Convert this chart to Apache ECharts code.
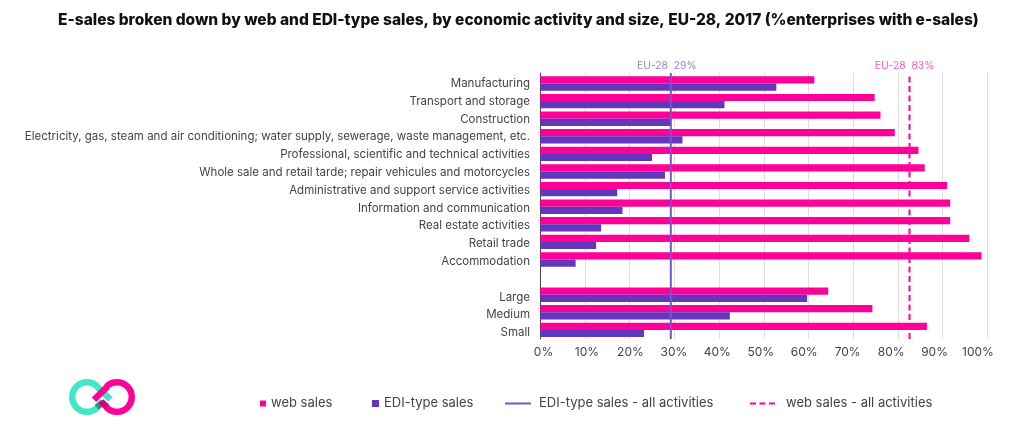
<!DOCTYPE html>
<html><head><meta charset="utf-8"><style>html,body{margin:0;background:#fff}#c{width:1024px;height:448px}</style>
<script src="https://cdn.jsdelivr.net/npm/echarts@6/dist/echarts.min.js"></script></head>
<body><div id="c"></div><script>
const categories=["Manufacturing","Transport and storage","Construction","Electricity, gas, steam and air conditioning; water supply, sewerage, waste management, etc.","Professional, scientific and technical activities","Whole sale and retail tarde; repair vehicules and motorcycles","Administrative and support service activities","Information and communication","Real estate activities","Retail trade","Accommodation","","Large","Medium","Small"];
const webSales=[61.3,74.8,76.1,79.3,84.6,86,91,91.7,91.7,96,98.7,null,64.4,74.3,86.5];
const ediSales=[52.8,41.2,29.3,31.8,25,27.9,17.2,18.4,13.6,12.5,7.9,null,59.7,42.4,23.2];
const ediAll=29.2, webAll=82.6;
const title="E-sales broken down by web and EDI-type sales, by economic activity and size, EU-28, 2017 (%enterprises with e-sales)";
const F="Inter",PINK="#ff0099",PUR="#6236bd",TXT="#444",TEAL="#40e8c8",LINEP="#7a55c9";
const L=540.3,W=447;
const legendBase=(name,left,w,h,icon,pad)=>({show:true,data:[icon?{name,icon}:{name}],left,top:397,padding:0,itemWidth:w,itemHeight:h,itemGap:0,textStyle:{fontFamily:F,fontSize:13,color:TXT,padding:[0,0,0,pad]},selectedMode:false});
const chart=echarts.init(document.getElementById('c'));
const stroke=(c)=>({stroke:c,lineWidth:6.5,fill:null,lineCap:'butt'});
const endLab=(text,color,dx)=>({show:true,formatter:text,align:'center',verticalAlign:'bottom',offset:[dx,-2],distance:0,fontFamily:F,fontSize:10.3,color});
chart.setOption({animation:false,backgroundColor:'#fff',
title:{text:title,left:58,top:12,padding:0,textStyle:{fontFamily:F,fontSize:15.5,fontWeight:800,color:'#111'}},
legend:[legendBase("web sales",260,6,6,'rect',0),legendBase("EDI-type sales",372,7,7,'rect',0),legendBase("EDI-type sales - all activities",504,26,2,null,3),legendBase("web sales - all activities",749,26,2,null,5)],
grid:[{left:L,width:W,top:74.7,height:264},{left:L,width:W,top:73,height:266},{left:543.5,width:434.5,top:74.6,height:267}],
xAxis:[
{gridIndex:0,type:'value',min:0,max:100,interval:10,axisLine:{show:false},axisTick:{show:false},axisLabel:{show:false},splitLine:{show:false}},
{gridIndex:1,type:'value',min:0,max:100,interval:10,axisLine:{show:false},axisTick:{show:false},axisLabel:{show:false},splitLine:{show:true,lineStyle:{color:'#dedede',width:1}}},
{gridIndex:2,type:'value',min:0,max:100,interval:10,axisLine:{show:false},axisTick:{show:false},splitLine:{show:false},axisLabel:{formatter:'{value}%',margin:4.5,fontFamily:F,fontSize:12,color:TXT}}],
yAxis:[
{gridIndex:0,type:'category',inverse:true,data:categories,axisLine:{show:false},axisTick:{show:false},axisLabel:{show:false},splitLine:{show:false}},
{gridIndex:1,type:'value',min:0,max:1,axisLine:{show:true,onZero:false,lineStyle:{color:'#444',width:1}},axisTick:{show:false},axisLabel:{show:false},splitLine:{show:false}},
{gridIndex:2,type:'category',inverse:true,data:categories,axisLine:{show:false},axisTick:{show:false},splitLine:{show:false},axisLabel:{interval:0,margin:13.5,fontFamily:F,fontSize:11.5,color:TXT}}],
series:[
{name:"web sales",type:'bar',xAxisIndex:0,yAxisIndex:0,data:webSales,barWidth:7.2,barGap:'0%',itemStyle:{color:PINK},z:2},
{name:"EDI-type sales",type:'bar',xAxisIndex:0,yAxisIndex:0,data:ediSales,barWidth:7.2,barGap:'0%',itemStyle:{color:PUR},z:2},
{name:"EDI-type sales - all activities",type:'line',xAxisIndex:1,yAxisIndex:1,data:[[ediAll,0],[ediAll,1]],symbol:'none',lineStyle:{color:LINEP,width:2},itemStyle:{color:LINEP},z:6,clip:false,endLabel:endLab('EU-28  29%','#9a7fdc',-4)},
{name:"web sales - all activities",type:'line',xAxisIndex:1,yAxisIndex:1,data:[[webAll,0],[webAll,1]],symbol:'none',lineStyle:{color:PINK,width:2,type:[6,3.5]},itemStyle:{color:PINK},z:6,clip:false,endLabel:endLab('EU-28  83%','#ff55bb',-5)}
],
graphic:[
{type:'arc',shape:{cx:87,cy:397,r:14.75,startAngle:Math.PI/4,endAngle:Math.PI*7/4,clockwise:true},style:stroke(TEAL),z:10},
{type:'line',shape:{x1:96.8,y1:407.4,x2:103,y2:402},style:stroke('#2d8f8a'),z:10},
{type:'arc',shape:{cx:117,cy:397,r:14.75,startAngle:-Math.PI*3/4,endAngle:Math.PI*3/4,clockwise:true},style:stroke(PINK),z:11},
{type:'line',shape:{x1:107.2,y1:407.4,x2:101,y2:401.5},style:stroke('#d6006f'),z:11},
{type:'line',shape:{x1:97,y1:386.6,x2:110.5,y2:399.5},style:stroke(TEAL),z:12},
{type:'line',shape:{x1:107.4,y1:386.6,x2:94,y2:399.8},style:stroke(PINK),z:13}
]});
</script></body></html>
